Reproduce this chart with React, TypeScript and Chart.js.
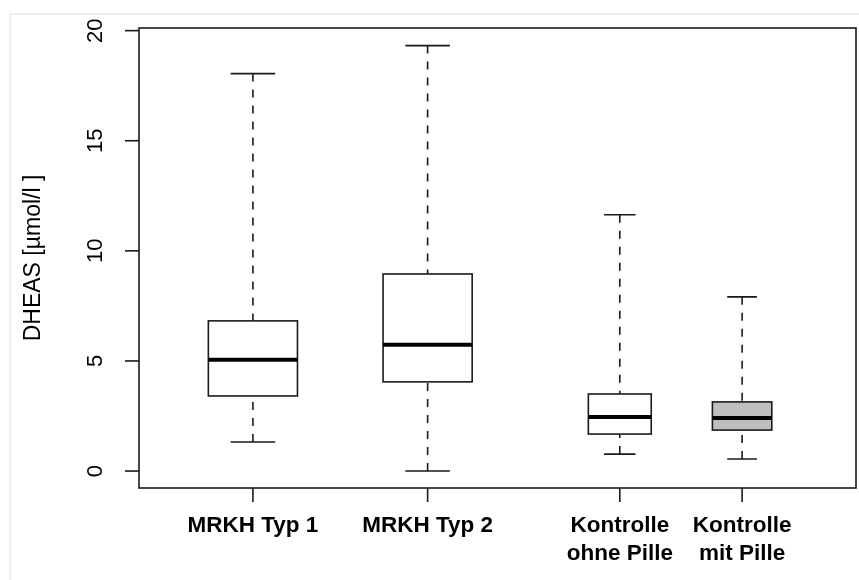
import React, { useEffect, useRef } from "react";
import { Chart, registerables } from "chart.js";

Chart.register(...registerables);

// ---- data ----
const categories = ["MRKH Typ 1", "MRKH Typ 2", "Kontrolle\nohne Pille", "Kontrolle\nmit Pille"];
const whiskerLow = [1.32, 0, 0.77, 0.55];
const q1 = [3.41, 4.05, 1.68, 1.86];
const medians = [5.05, 5.73, 2.45, 2.41];
const q3 = [6.82, 8.95, 3.5, 3.14];
const whiskerHigh = [18.05, 19.32, 11.64, 7.91];
const yTicks = [0, 5, 10, 15, 20];
const yTitle = "DHEAS [µmol/l ]";

// ---- layout config ----
const positions = [1, 2, 3.1, 3.8];
const boxWidths = [0.51, 0.51, 0.36, 0.34];
const boxFills = ["#ffffff", "#ffffff", "#ffffff", "#bebebe"];

const FONT = "'Liberation Sans', Arial, sans-serif";
const LINE = "#1a1a1a";

const boxPlugin = {
  id: "rBoxplot",
  afterDraw(chart: any) {
    const { ctx, chartArea, scales } = chart;
    const xs = scales.x;
    const ys = scales.y;
    const { left, right, top, bottom } = chartArea;
    ctx.save();

    // outer light frame of the image
    ctx.fillStyle = "#efeee6";
    ctx.fillRect(9, 13, chart.width - 9, 2);
    ctx.fillRect(9, 13, 2, chart.height - 13);

    // boxes
    positions.forEach((p, i) => {
      const cx = xs.getPixelForValue(p);
      const x0 = xs.getPixelForValue(p - boxWidths[i] / 2);
      const x1 = xs.getPixelForValue(p + boxWidths[i] / 2);
      const w = x1 - x0;
      const capHalf = w / 4;
      const yq1 = ys.getPixelForValue(q1[i]);
      const yq3 = ys.getPixelForValue(q3[i]);
      const ymed = ys.getPixelForValue(medians[i]);
      const ylo = ys.getPixelForValue(whiskerLow[i]);
      const yhi = ys.getPixelForValue(whiskerHigh[i]);

      ctx.strokeStyle = LINE;
      ctx.lineWidth = 1.6;
      // whiskers (dashed, drawn from whisker end toward box)
      ctx.setLineDash([8, 8]);
      ctx.beginPath();
      ctx.moveTo(cx, yhi);
      ctx.lineTo(cx, yq3);
      ctx.moveTo(cx, ylo);
      ctx.lineTo(cx, yq1);
      ctx.stroke();
      ctx.setLineDash([]);
      // caps
      ctx.beginPath();
      ctx.moveTo(cx - capHalf, yhi);
      ctx.lineTo(cx + capHalf, yhi);
      ctx.moveTo(cx - capHalf, ylo);
      ctx.lineTo(cx + capHalf, ylo);
      ctx.stroke();
      // box
      ctx.fillStyle = boxFills[i];
      ctx.fillRect(x0, yq3, w, yq1 - yq3);
      ctx.strokeRect(x0, yq3, w, yq1 - yq3);
      // median
      ctx.lineWidth = 4;
      ctx.strokeStyle = "#000000";
      ctx.beginPath();
      ctx.moveTo(x0, ymed);
      ctx.lineTo(x1, ymed);
      ctx.stroke();
    });

    // frame
    ctx.strokeStyle = LINE;
    ctx.lineWidth = 1.6;
    ctx.strokeRect(left, top, right - left, bottom - top);

    // y axis ticks + labels
    ctx.fillStyle = "#000000";
    ctx.font = `22px ${FONT}`;
    ctx.textAlign = "center";
    ctx.textBaseline = "middle";
    yTicks.forEach((t) => {
      const y = ys.getPixelForValue(t);
      ctx.beginPath();
      ctx.moveTo(left - 14, y);
      ctx.lineTo(left, y);
      ctx.stroke();
      ctx.save();
      ctx.translate(96, y);
      ctx.rotate(-Math.PI / 2);
      ctx.fillText(String(t), 0, 0);
      ctx.restore();
    });

    // y title
    ctx.save();
    ctx.translate(34, (top + bottom) / 2);
    ctx.rotate(-Math.PI / 2);
    ctx.font = `23px ${FONT}`;
    ctx.fillText(yTitle, 0, 0);
    ctx.restore();

    // x ticks + labels
    ctx.font = `bold 22.5px ${FONT}`;
    positions.forEach((p, i) => {
      const x = xs.getPixelForValue(p);
      ctx.beginPath();
      ctx.moveTo(x, bottom);
      ctx.lineTo(x, bottom + 14);
      ctx.stroke();
      categories[i].split("\n").forEach((line, k) => {
        ctx.fillText(line, x, bottom + 38 + k * 28);
      });
    });

    ctx.restore();
  },
};

export default function App() {
  const ref = useRef<HTMLCanvasElement | null>(null);
  useEffect(() => {
    if (!ref.current) return;
    const chart = new Chart(ref.current, {
      type: "scatter",
      data: {
        datasets: [
          {
            data: positions.map((p, i) => ({ x: p, y: medians[i] })),
            pointRadius: 0,
            showLine: false,
          },
        ],
      },
      options: {
        animation: false,
        responsive: false,
        devicePixelRatio: 1,
        layout: { padding: { left: 139, top: 28, right: 3, bottom: 92 } },
        plugins: { legend: { display: false }, tooltip: { enabled: false } },
        scales: {
          x: { type: "linear", min: 0.348, max: 4.452, display: false },
          y: { type: "linear", min: -0.77, max: 20.12, display: false },
        },
      },
      plugins: [boxPlugin],
    });
    return () => chart.destroy();
  }, []);
  return (
    <div style={{ position: "fixed", left: 0, top: 0, width: 859, height: 580, background: "#ffffff" }}>
      <canvas ref={ref} width={859} height={580} style={{ display: "block" }} />
    </div>
  );
}
